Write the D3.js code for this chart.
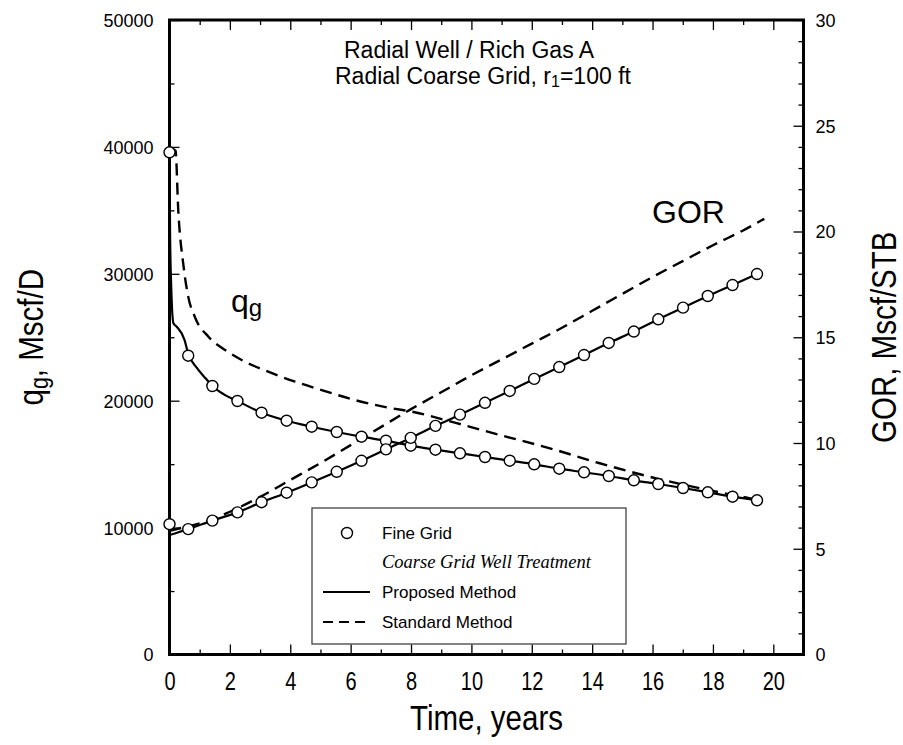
<!DOCTYPE html>
<html>
<head>
<meta charset="utf-8">
<script src="https://cdn.jsdelivr.net/npm/d3@7"></script>
<style>
  html, body { margin: 0; padding: 0; background: #fff; }
  svg { display: block; }
  text { font-family: "Liberation Sans", Arial, Helvetica, sans-serif; fill: #000; }
</style>
</head>
<body>
<svg id="chart" width="903" height="745"></svg>
<script>
// Fine-grid reference simulation (circles): time in years, gas rate and GOR
const fineTime = [0, 0.62, 1.42, 2.25, 3.05, 3.88, 4.71, 5.54, 6.36, 7.17, 7.99, 8.81, 9.62,
  10.45, 11.27, 12.08, 12.91, 13.73, 14.55, 15.38, 16.19, 17.01, 17.83, 18.65, 19.46];
const fineRate = [39575, 23546, 21158, 19976, 19054, 18424, 17951, 17533, 17163, 16848, 16454,
  16139, 15855, 15563, 15272, 14988, 14642, 14358, 14066, 13727, 13436, 13121, 12782, 12436, 12151];
const fineGOR = [6.16, 5.93, 6.33, 6.72, 7.20, 7.65, 8.14, 8.64, 9.16, 9.70, 10.24, 10.81, 11.34,
  11.90, 12.46, 13.03, 13.59, 14.16, 14.73, 15.27, 15.85, 16.40, 16.95, 17.47, 17.99];

// Coarse grid, proposed well treatment (solid lines)
const propRateTime = [0, 0.02, 0.05, 0.13, 0.24, 0.5, 0.62, 0.9, 1.2, 1.42, 1.8, 2.25, 3.05, 3.88,
  4.71, 5.54, 6.36, 7.17, 7.99, 8.81, 9.62, 10.45, 11.27, 12.08, 12.91, 13.73, 14.55, 15.38,
  16.19, 17.01, 17.83, 18.65, 19.46];
const propRate = [39575, 33000, 29500, 26100, 25830, 24780, 23700, 22600, 21750, 21158, 20500,
  19976, 19054, 18424, 17951, 17533, 17163, 16848, 16454, 16139, 15855, 15563, 15272, 14988,
  14642, 14358, 14066, 13727, 13436, 13121, 12782, 12436, 12151];
const propGORTime = [0, 0.3, 0.62, 1.42, 2.25, 3.05, 3.88, 4.71, 5.54, 6.36, 7.17, 7.99, 8.81,
  9.62, 10.45, 11.27, 12.08, 12.91, 13.73, 14.55, 15.38, 16.19, 17.01, 17.83, 18.65, 19.46];
const propGOR = [5.65, 5.78, 5.93, 6.33, 6.72, 7.20, 7.65, 8.14, 8.64, 9.16, 9.70, 10.24, 10.81,
  11.34, 11.90, 12.46, 13.03, 13.59, 14.16, 14.73, 15.27, 15.85, 16.40, 16.95, 17.47, 17.99];

// Coarse grid, standard well treatment (dashed lines)
const stdRateTime = [0.02, 0.2, 0.29, 0.46, 0.62, 0.84, 1.29, 1.84, 2.5, 3.27, 4.16, 5.04, 6.14,
  7.25, 8.0, 9.45, 10.94, 12.6, 14.25, 15.9, 17.57, 18.67, 19.46];
const stdRate = [39900, 39700, 35000, 30700, 28200, 26600, 25040, 24000, 23070, 22290, 21500,
  20840, 20050, 19450, 19150, 18270, 17300, 16250, 15070, 14010, 13100, 12570, 12200];
const stdGORTime = [0, 0.5, 1, 1.5, 2, 3, 4, 5, 6, 7, 8, 9, 10, 11, 12, 13, 14, 15, 16, 17, 18,
  19, 19.7];
const stdGOR = [5.85, 6.02, 6.2, 6.45, 6.75, 7.45, 8.25, 9.05, 9.9, 10.75, 11.6, 12.4, 13.2,
  13.95, 14.7, 15.45, 16.25, 17.05, 17.85, 18.6, 19.35, 20.05, 20.6];

// Axis ticks
const timeTicks = [0, 2, 4, 6, 8, 10, 12, 14, 16, 18, 20];
const timeMinor = [1, 3, 5, 7, 9, 11, 13, 15, 17, 19];
const rateTicks = [0, 10000, 20000, 30000, 40000, 50000];
const rateMinor = [5000, 15000, 25000, 35000, 45000];
const gorTicks = [0, 5, 10, 15, 20, 25, 30];
const gorMinor = d3.range(1, 30).filter(v => v % 5 !== 0);

const svg = d3.select("#chart");
const L = 169.5, R = 803.5, T = 20, B = 654.5;

const x = d3.scaleLinear().domain([0, 21]).range([L, R]);
const yQ = d3.scaleLinear().domain([0, 50000]).range([B, T]);
const yG = d3.scaleLinear().domain([0, 30]).range([B, T]);

const MAJ = 10, MIN = 5;

function drawAxis(axisFn, scale, ticks, size, transform, labelled) {
  const g = svg.append("g").attr("transform", transform)
    .call(axisFn(scale).tickValues(ticks).tickSizeInner(size).tickSizeOuter(0)
      .tickFormat(labelled ? d3.format("d") : () => ""));
  g.select(".domain").remove();
  g.selectAll(".tick line").attr("stroke", "#000").attr("stroke-width", 1.3);
  return g;
}

// bottom axis (inward ticks)
const gb = drawAxis(d3.axisBottom, x, timeTicks, -MAJ, `translate(0,${B})`, true);
gb.selectAll(".tick text")
  .attr("y", 0).attr("dy", 0)
  .attr("transform", "translate(0,35) scale(0.8,1)")
  .style("font-size", "25px");
drawAxis(d3.axisBottom, x, timeMinor, -MIN, `translate(0,${B})`, false);
// top axis
drawAxis(d3.axisTop, x, timeTicks, -MAJ, `translate(0,${T})`, false);
drawAxis(d3.axisTop, x, timeMinor, -MIN, `translate(0,${T})`, false);
// left axis
const gl = drawAxis(d3.axisLeft, yQ, rateTicks, -MAJ, `translate(${L},0)`, true);
gl.selectAll(".tick text").attr("x", -16).attr("dy", "0.36em").style("font-size", "18px");
drawAxis(d3.axisLeft, yQ, rateMinor, -MIN, `translate(${L},0)`, false);
// right axis
const gr = drawAxis(d3.axisRight, yG, gorTicks, -MAJ, `translate(${R},0)`, true);
gr.selectAll(".tick text").attr("x", 12).attr("dy", "0.36em").style("font-size", "18px");
drawAxis(d3.axisRight, yG, gorMinor, -MIN, `translate(${R},0)`, false);

// plot frame
svg.append("rect").attr("x", L).attr("y", T).attr("width", R - L).attr("height", B - T)
  .attr("fill", "none").attr("stroke", "#000").attr("stroke-width", 3);

// curves
const lineQ = d3.line().x(d => x(d[0])).y(d => yQ(d[1])).curve(d3.curveMonotoneX);
const lineG = d3.line().x(d => x(d[0])).y(d => yG(d[1])).curve(d3.curveMonotoneX);
const zip = (a, b) => a.map((v, i) => [v, b[i]]);

const plot = svg.append("g");
const dash = "12,7";
plot.append("path").datum(zip(stdRateTime, stdRate)).attr("d", lineQ)
  .attr("fill", "none").attr("stroke", "#000").attr("stroke-width", 2.4).attr("stroke-dasharray", dash);
plot.append("path").datum(zip(stdGORTime, stdGOR)).attr("d", lineG)
  .attr("fill", "none").attr("stroke", "#000").attr("stroke-width", 2.4).attr("stroke-dasharray", dash);
plot.append("path").datum(zip(propRateTime, propRate)).attr("d", lineQ)
  .attr("fill", "none").attr("stroke", "#000").attr("stroke-width", 2.2);
plot.append("path").datum(zip(propGORTime, propGOR)).attr("d", lineG)
  .attr("fill", "none").attr("stroke", "#000").attr("stroke-width", 2.2);

// fine grid circles
const circ = (cx, cy) => plot.append("circle").attr("cx", cx).attr("cy", cy).attr("r", 5.5)
  .attr("fill", "#fff").attr("stroke", "#000").attr("stroke-width", 1.4);
fineTime.forEach((t, i) => { circ(x(t), yQ(fineRate[i])); circ(x(t), yG(fineGOR[i])); });

// title block
svg.append("text").attr("x", 344).attr("y", 58).style("font-size", "23px")
  .text("Radial Well / Rich Gas A");
const t2 = svg.append("text").attr("x", 335).attr("y", 84).style("font-size", "23px");
t2.append("tspan").text("Radial Coarse Grid, r");
t2.append("tspan").attr("dy", 3).style("font-size", "16px").text("1");
t2.append("tspan").attr("dy", -3).text("=100 ft");

// curve annotations
svg.append("text").attr("x", 652).attr("y", 223).style("font-size", "32px").text("GOR");
const qa = svg.append("text").attr("x", 231).attr("y", 312).style("font-size", "32px");
qa.append("tspan").text("q");
qa.append("tspan").attr("dy", 4).style("font-size", "24px").text("g");

// axis titles (condensed)
svg.append("text").attr("text-anchor", "middle")
  .attr("transform", `translate(${(L + R) / 2},730) scale(0.82,1)`)
  .style("font-size", "36px").text("Time, years");
const yt = svg.append("text").attr("text-anchor", "middle")
  .attr("transform", `translate(43,${(T + B) / 2}) rotate(-90) scale(0.82,1)`)
  .style("font-size", "36px");
yt.append("tspan").text("q");
yt.append("tspan").attr("dy", 5).style("font-size", "26px").text("g");
yt.append("tspan").attr("dy", -5).text(", Mscf/D");
svg.append("text").attr("text-anchor", "middle")
  .attr("transform", `translate(896,${(T + B) / 2}) rotate(-90) scale(0.82,1)`)
  .style("font-size", "36px").text("GOR, Mscf/STB");

// legend
const lg = svg.append("g");
lg.append("rect").attr("x", 312).attr("y", 508).attr("width", 314).attr("height", 136)
  .attr("fill", "#fff").attr("stroke", "#333").attr("stroke-width", 1.2);
lg.append("circle").attr("cx", 347).attr("cy", 533).attr("r", 5.5)
  .attr("fill", "#fff").attr("stroke", "#000").attr("stroke-width", 1.4);
lg.append("text").attr("x", 382).attr("y", 539).style("font-size", "17px").text("Fine Grid");
lg.append("text").attr("x", 382).attr("y", 568)
  .style("font-family", "'Liberation Serif', 'Times New Roman', serif")
  .style("font-style", "italic").style("font-size", "18.5px").text("Coarse Grid Well Treatment");
lg.append("line").attr("x1", 323).attr("x2", 370).attr("y1", 592).attr("y2", 592)
  .attr("stroke", "#000").attr("stroke-width", 2.2);
lg.append("text").attr("x", 382).attr("y", 598).style("font-size", "17px").text("Proposed Method");
lg.append("line").attr("x1", 323).attr("x2", 370).attr("y1", 622).attr("y2", 622)
  .attr("stroke", "#000").attr("stroke-width", 2.2).attr("stroke-dasharray", "10,6");
lg.append("text").attr("x", 382).attr("y", 628).style("font-size", "17px").text("Standard Method");
</script>
</body>
</html>
